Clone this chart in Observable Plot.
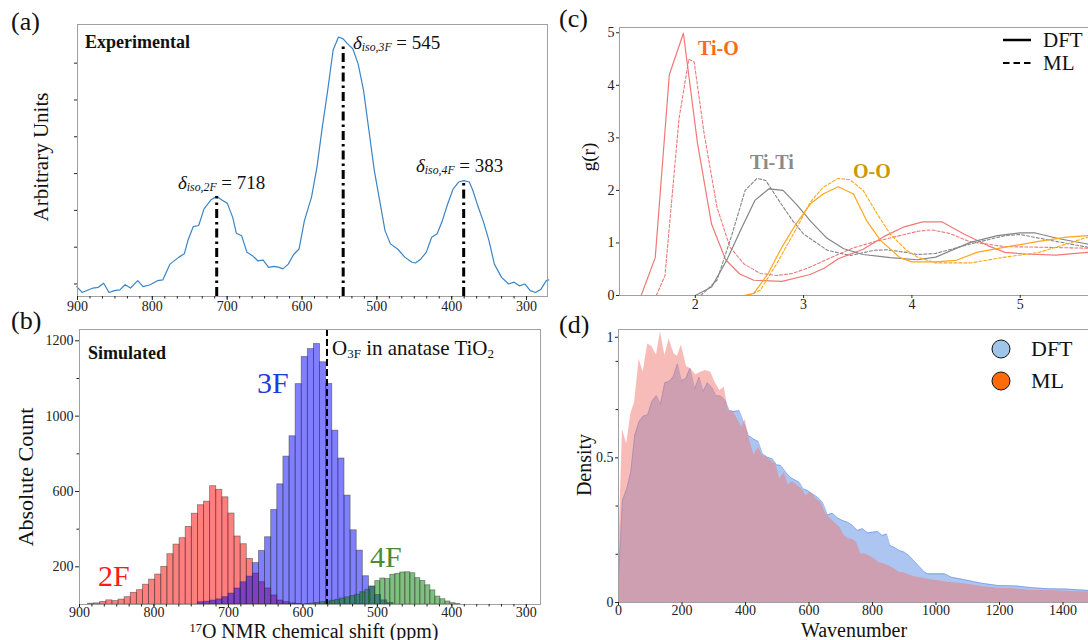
<!DOCTYPE html>
<html><head><meta charset="utf-8">
<script src="https://cdn.jsdelivr.net/npm/d3@7"></script>
<script src="https://cdn.jsdelivr.net/npm/@observablehq/plot@0.6"></script>
<style>
html,body{margin:0;padding:0;background:#fff;}
body{width:1088px;height:640px;overflow:hidden;position:relative;font-family:"Liberation Serif","Times New Roman",serif;color:#111;}
.panel{position:absolute;}
.panel svg{max-width:none !important;overflow:visible;}
.panel svg text{font-family:"Liberation Serif","Times New Roman",serif !important;font-size:14px;fill:#222;}
.lab{position:absolute;white-space:nowrap;line-height:1;}
.lab sub{font-size:0.62em;vertical-align:-0.25em;line-height:0;}
.lab sup{font-size:0.62em;vertical-align:0.45em;line-height:0;}
</style></head><body>
<script>
// ---------------- (a) experimental spectrum ----------------
const expShift = [901, 893.8, 879.4, 872.2, 865, 857.9, 850.7, 843.5, 836.3, 829.1, 819.5, 812.4, 802.8, 793.2, 786, 776.4, 764.5, 757.3, 752.5, 745.3, 738.1, 730.9, 721.4, 714.2, 707, 699.8, 692.6, 687.8, 680.7, 673.5, 666.3, 659.1, 651.9, 644.7, 637.5, 630.4, 625.6, 618.4, 611.2, 604, 596.8, 587.3, 580.1, 572.9, 565.7, 558.5, 551.3, 545.1, 539.4, 532.2, 525, 517.8, 510.6, 503.4, 496.3, 489.1, 481.9, 472.3, 462.7, 453.2, 448.4, 441.2, 434, 426.8, 419.6, 412.5, 405.3, 398.1, 390.9, 383.7, 376.5, 371.7, 364.6, 357.4, 350.2, 343, 333.4, 323.8, 316.7, 309.5, 302.3, 295.1, 287.9, 280.7, 273.6, 270.2];
const expIntensity = [-0.07, -0.23, -0.11, -0.09, 0.02, -0.23, -0.18, -0.16, -0.02, -0.11, 0.09, -0.07, -0.02, 0.09, 0.11, 0.54, 0.73, 0.82, 1.18, 1.56, 1.59, 2.04, 2.29, 2.38, 2.28, 2.19, 1.81, 1.38, 1.31, 0.86, 0.77, 0.63, 0.65, 0.45, 0.48, 0.45, 0.41, 0.54, 0.80, 0.95, 1.72, 2.36, 3.17, 4.26, 5.26, 6.35, 6.71, 6.66, 6.53, 6.39, 5.98, 5.26, 4.17, 3.08, 2.27, 1.45, 1.09, 0.95, 0.73, 0.59, 0.57, 0.68, 0.86, 1.27, 1.36, 1.72, 2.18, 2.58, 2.77, 2.81, 2.77, 2.54, 2.09, 1.68, 1.18, 0.54, 0.18, 0, 0.05, -0.05, 0, -0.18, -0.23, -0.14, 0.09, 0.11];
const markerShift = [714, 545, 384];
const markerTop = [2.38, 6.45, 2.78];
const markerLabel = ["2F", "3F", "4F"];
const markerValue = ["718", "545", "383"];
const aXTicks = [900, 800, 700, 600, 500, 400, 300];

// ---------------- (b) simulated histograms ----------------
const binWidth = 8.2;          // 2F and 3F bin width (ppm)
const redFirstEdge = 888.6;    // high-ppm edge of first 2F bin
const redCounts = [4, 6, 14, 22, 18, 26, 39, 62, 76, 105, 132, 159, 200, 267, 318, 352, 412, 482, 527, 546, 628, 609, 569, 483, 361, 320, 242, 164, 118, 85, 48, 21, 12, 6, 3];
const blueFirstEdge = 741.0;
const blueCounts = [12, 15, 21, 27, 39, 58, 85, 118, 148, 220, 284, 357, 502, 638, 785, 893, 1170, 1314, 1356, 1383, 1286, 1171, 923, 775, 578, 394, 286, 150, 95, 50, 22, 8];
const greenWidth = 6.72;
const greenFirstEdge = 596.9;
const greenCounts = [3, 5, 8, 12, 15, 20, 25, 32, 38, 45, 52, 65, 78, 95, 124, 138, 135, 158, 163, 170, 171, 166, 140, 125, 102, 75, 42, 28, 16, 7, 3];
const o3fShift = 567.7;
const bXTicks = [900, 800, 700, 600, 500, 400, 300];
const bYTicks = [200, 600, 1000, 1400];
const bYTickLabels = ["200", "600", "1000", "1200"];
const bYMinor = [400, 800, 1200];

// ---------------- (c) radial distribution functions ----------------
const tioDftR = [1.50, 1.63, 1.76, 1.89, 2.02, 2.15, 2.28, 2.41, 2.54, 2.80, 3.06, 3.19, 3.32, 3.55, 3.74, 3.92, 4.10, 4.28, 4.48, 4.70, 4.86, 5.05, 5.33, 5.62, 5.90];
const tioDftG = [0, 0.72, 4.20, 4.99, 2.90, 1.36, 0.68, 0.41, 0.29, 0.27, 0.40, 0.52, 0.70, 0.88, 1.12, 1.30, 1.40, 1.40, 1.17, 0.95, 0.82, 0.79, 0.77, 0.82, 0.88];
const tioMlR = [1.64, 1.72, 1.85, 1.94, 1.99, 2.08, 2.20, 2.32, 2.45, 2.60, 2.75, 2.90, 3.06, 3.25, 3.45, 3.65, 3.85, 4.05, 4.18, 4.35, 4.54, 4.86, 5.17, 5.62, 5.90];
const tioMlG = [0, 0.38, 3.37, 4.50, 4.44, 3.10, 1.68, 0.92, 0.60, 0.42, 0.38, 0.42, 0.54, 0.72, 0.90, 1.02, 1.12, 1.22, 1.25, 1.18, 1.02, 0.93, 0.92, 0.90, 0.90];
const titiDftR = [2.00, 2.15, 2.29, 2.42, 2.55, 2.68, 2.81, 2.94, 3.07, 3.21, 3.37, 3.55, 3.80, 4.05, 4.22, 4.54, 4.79, 5.00, 5.14, 5.36, 5.62, 5.90];
const titiDftG = [0, 0.16, 0.67, 1.25, 1.81, 2.03, 2.00, 1.72, 1.40, 1.10, 0.89, 0.78, 0.72, 0.68, 0.73, 1.01, 1.14, 1.19, 1.19, 1.08, 0.98, 0.92];
const titiMlR = [2.05, 2.20, 2.34, 2.46, 2.57, 2.65, 2.78, 2.90, 3.00, 3.22, 3.43, 3.65, 3.77, 3.95, 4.05, 4.22, 4.54, 4.86, 5.00, 5.33, 5.62, 5.90];
const titiMlG = [0, 0.29, 1.17, 2.00, 2.23, 2.19, 1.78, 1.42, 1.17, 0.86, 0.76, 0.86, 0.87, 0.82, 0.78, 0.80, 0.98, 1.14, 1.16, 1.03, 0.92, 0.88];
const ooDftR = [2.45, 2.54, 2.67, 2.80, 2.93, 3.06, 3.18, 3.32, 3.46, 3.58, 3.71, 3.89, 4.00, 4.22, 4.41, 4.60, 4.86, 5.17, 5.43, 5.62, 5.90];
const ooDftG = [0, 0.04, 0.41, 0.92, 1.36, 1.74, 1.93, 2.07, 1.93, 1.43, 1.05, 0.72, 0.64, 0.64, 0.67, 0.82, 0.92, 1.03, 1.11, 1.14, 1.14];
const ooMlR = [2.49, 2.60, 2.75, 2.94, 3.06, 3.18, 3.32, 3.43, 3.55, 3.68, 3.80, 3.95, 4.05, 4.22, 4.54, 4.86, 5.17, 5.43, 5.62, 5.90];
const ooMlG = [0, 0.10, 0.60, 1.30, 1.77, 2.06, 2.23, 2.20, 2.00, 1.55, 1.17, 0.86, 0.73, 0.62, 0.62, 0.73, 0.82, 0.98, 1.11, 1.18];
const cXTicks = [2, 3, 4, 5];
const cYTicks = [0, 1, 2, 3, 4, 5];

// ---------------- (d) vibrational density of states ----------------
const mlW = [0, 12.5, 26, 38.7, 51, 65, 77.6, 92, 105, 119.6, 132, 146, 159.5, 175, 185.7, 198, 214, 227.7, 243.4, 259, 275, 290.7, 304, 319, 333, 346, 361, 374.7, 388, 399, 411.5, 427, 440.8, 453, 469, 485, 495.4, 508, 521.7, 534, 548, 563.7, 577, 590, 605.7, 621.4, 637, 653, 669, 684.4, 697, 710.7, 723, 737, 749.5, 763, 779, 791.5, 805, 821, 836.6, 852.4, 868, 884, 900, 915.4, 936, 984, 1037, 1090, 1143, 1196, 1249, 1302, 1355, 1408, 1480, 1600];
const mlD = [0.16, 0.646, 0.592, 0.704, 0.748, 0.909, 0.859, 0.965, 0.956, 0.924, 1.011, 0.922, 0.984, 0.928, 0.919, 0.961, 0.882, 0.872, 0.85, 0.859, 0.866, 0.859, 0.822, 0.791, 0.803, 0.716, 0.713, 0.685, 0.654, 0.683, 0.611, 0.551, 0.58, 0.549, 0.539, 0.524, 0.517, 0.461, 0.486, 0.439, 0.451, 0.437, 0.424, 0.399, 0.412, 0.387, 0.374, 0.331, 0.312, 0.294, 0.281, 0.25, 0.238, 0.235, 0.225, 0.182, 0.18, 0.173, 0.163, 0.148, 0.144, 0.136, 0.126, 0.113, 0.111, 0.103, 0.095, 0.085, 0.076, 0.07, 0.06, 0.053, 0.051, 0.045, 0.045, 0.042, 0.039, 0.035];
const dftW = [0, 12.5, 26, 38.7, 51, 65, 77.6, 92, 105, 119.6, 132, 146, 159.5, 172, 185.7, 198, 212, 225, 240, 254, 266.6, 280, 296, 306.5, 322, 336, 348.5, 364, 380, 395.7, 409, 424, 440, 453, 469, 485, 497.5, 511, 527, 540, 553, 569, 581.5, 595, 611, 626.7, 642.4, 658, 674, 690, 705.4, 721, 737, 752.6, 768, 784, 800, 816, 831.4, 844, 854.5, 868, 884, 900, 915, 936, 964, 974, 1027, 1048, 1090, 1143, 1196, 1249, 1302, 1355, 1408, 1480, 1600];
const dftD = [0.088, 0.38, 0.424, 0.486, 0.623, 0.675, 0.695, 0.7, 0.75, 0.772, 0.739, 0.82, 0.825, 0.841, 0.89, 0.828, 0.835, 0.874, 0.797, 0.841, 0.787, 0.82, 0.8, 0.772, 0.77, 0.754, 0.716, 0.713, 0.716, 0.667, 0.623, 0.611, 0.601, 0.555, 0.542, 0.536, 0.514, 0.511, 0.486, 0.468, 0.459, 0.449, 0.424, 0.418, 0.405, 0.393, 0.374, 0.327, 0.333, 0.315, 0.306, 0.3, 0.287, 0.269, 0.275, 0.26, 0.262, 0.265, 0.25, 0.256, 0.213, 0.206, 0.194, 0.188, 0.175, 0.148, 0.113, 0.107, 0.107, 0.0945, 0.0846, 0.072, 0.063, 0.062, 0.055, 0.051, 0.05, 0.045, 0.04];
const dXTicks = [0, 200, 400, 600, 800, 1000, 1200, 1400];
const dYTicks = [0, 0.54, 0.99];
const dYTickLabels = ["0", "0.5", "1"];
const dYMinor = [0.18, 0.36, 0.72, 0.9];

// ---------------- helpers ----------------
const common = {background: "transparent", fontFamily: "'Liberation Serif','Times New Roman',serif", fontSize: "14px", color: "#222", overflow: "visible"};
const frameColor = "#a0a0a0";
function place(svg, left, top) {
  const div = document.createElement("div");
  div.className = "panel";
  div.style.left = left + "px"; div.style.top = top + "px";
  div.appendChild(svg);
  document.body.appendChild(div);
}
function label(html, x, y, css = {}, ax = 0, ay = 0.5, rot = 0) {
  const d = document.createElement("div");
  d.className = "lab";
  d.innerHTML = html;
  Object.assign(d.style, css);
  d.style.left = x + "px"; d.style.top = y + "px";
  d.style.transform = `translate(${-ax * 100}%, ${-ay * 100}%)` + (rot ? ` rotate(${rot}deg)` : "");
  document.body.appendChild(d);
}
const blank = () => "";
const fmtMap = (vals, labs) => { const m = new Map(vals.map((v, i) => [v, labs[i]])); return d => m.get(d); };
const zip2 = (a, b, ka, kb, extra = {}) => a.map((v, i) => ({[ka]: v, [kb]: b[i], ...extra}));
const bins = (counts, first, w) => counts.map((c, i) => ({x1: first - i * w, x2: first - (i + 1) * w, count: c}));

// ---------------- (a) ----------------
const expData = zip2(expShift, expIntensity, "shift", "intensity");
const markers = markerShift.map((s, i) => ({shift: s, top: markerTop[i]}));
const aYmin = -0.34;
place(Plot.plot({
  width: 560, height: 330, marginLeft: 77, marginRight: 13, marginTop: 24, marginBottom: 34,
  x: {domain: [900, 272]}, y: {domain: [aYmin, 7.05]},
  style: common,
  marks: [
    Plot.line(expData, {x: "shift", y: "intensity", stroke: "#3a85c6", strokeWidth: 1.2}),
    Plot.ruleX(markers, {x: "shift", y1: aYmin, y2: "top", stroke: "#000", strokeWidth: 3, strokeDasharray: "9,4,2.5,4"}),
    Plot.frame({stroke: frameColor}),
    Plot.axisX(aXTicks, {tickSize: 4, tickPadding: 1, tickFormat: d => String(d), label: null}),
    Plot.axisX(d3.range(300, 900, 100 / 6), {tickSize: 2.5, tickFormat: blank, label: null}),
    Plot.axisY(d3.range(0, 7, 1), {tickSize: 3, tickFormat: blank, label: null})
  ]
}), 0, 0);

// ---------------- (b) ----------------
place(Plot.plot({
  width: 560, height: 330, marginLeft: 79, marginRight: 20, marginTop: 19, marginBottom: 36,
  x: {domain: [900, 281]}, y: {domain: [0, 1460]},
  style: common,
  marks: [
    Plot.rectY(bins(redCounts, redFirstEdge, binWidth), {x1: "x1", x2: "x2", y1: 0, y2: "count", fill: "#ff0000", fillOpacity: 0.5, stroke: "#333", strokeOpacity: 0.55, strokeWidth: 0.8}),
    Plot.rectY(bins(blueCounts, blueFirstEdge, binWidth), {x1: "x1", x2: "x2", y1: 0, y2: "count", fill: "#0000ff", fillOpacity: 0.5, stroke: "#333", strokeOpacity: 0.55, strokeWidth: 0.8}),
    Plot.rectY(bins(greenCounts, greenFirstEdge, greenWidth), {x1: "x1", x2: "x2", y1: 0, y2: "count", fill: "#008000", fillOpacity: 0.5, stroke: "#333", strokeOpacity: 0.55, strokeWidth: 0.8}),
    Plot.ruleX([o3fShift], {stroke: "#000", strokeWidth: 2, strokeDasharray: "7,3"}),
    Plot.frame({stroke: frameColor}),
    Plot.axisX(bXTicks, {tickSize: 3, tickPadding: 0, tickFormat: d => String(d), label: null}),
    Plot.axisX(d3.range(300, 900, 100 / 6), {tickSize: 2.5, tickFormat: blank, label: null}),
    Plot.axisY(bYTicks, {tickSize: 4, tickPadding: 2, tickFormat: fmtMap(bYTicks, bYTickLabels), label: null}),
    Plot.axisY(bYMinor, {tickSize: 2.5, tickFormat: blank, label: null})
  ]
}), 0, 310);

// ---------------- (c) ----------------
const rdf = [
  ...zip2(tioDftR, tioDftG, "r", "g", {s: "TiO-DFT"}),
  ...zip2(tioMlR, tioMlG, "r", "g", {s: "TiO-ML"}),
  ...zip2(titiDftR, titiDftG, "r", "g", {s: "TiTi-DFT"}),
  ...zip2(titiMlR, titiMlG, "r", "g", {s: "TiTi-ML"}),
  ...zip2(ooDftR, ooDftG, "r", "g", {s: "OO-DFT"}),
  ...zip2(ooMlR, ooMlG, "r", "g", {s: "OO-ML"})
];
const pairColor = {TiO: "#f07878", TiTi: "#858585", OO: "#ffa51a"};
const rdfLines = Object.keys(pairColor).flatMap(p => [
  Plot.line(rdf.filter(d => d.s === p + "-DFT"), {x: "r", y: "g", stroke: pairColor[p], strokeWidth: 1.2}),
  Plot.line(rdf.filter(d => d.s === p + "-ML"), {x: "r", y: "g", stroke: pairColor[p], strokeWidth: 1.1, strokeDasharray: "3,2"})
]);
place(Plot.plot({
  width: 580, height: 310, marginLeft: 59, marginRight: 12, marginTop: 27, marginBottom: 15,
  x: {domain: [1.3, 6.0]}, y: {domain: [0, 5.1]},
  style: common,
  marks: [
    ...rdfLines,
    Plot.frame({stroke: frameColor}),
    Plot.axisX(cXTicks, {tickSize: 3, tickPadding: 1, tickFormat: d => String(d), label: null}),
    Plot.axisY(cYTicks, {tickSize: 3, tickPadding: 2, tickFormat: d => String(d), label: null})
  ]
}), 560, 0);

// ---------------- (d) ----------------
const dft = zip2(dftW, dftD, "w", "d");
const ml = zip2(mlW, mlD, "w", "d");
place(Plot.plot({
  width: 580, height: 330, marginLeft: 58, marginRight: 14, marginTop: 19, marginBottom: 38,
  x: {domain: [0, 1600]}, y: {domain: [0, 1.019]},
  style: common,
  marks: [
    Plot.areaY(dft, {x: "w", y1: 0, y2: "d", fill: "#5c8be4", fillOpacity: 0.5}),
    Plot.line(dft, {x: "w", y: "d", stroke: "#5c8be4", strokeOpacity: 0.7, strokeWidth: 0.8}),
    Plot.areaY(ml, {x: "w", y1: 0, y2: "d", fill: "#f07a72", fillOpacity: 0.5}),
    Plot.frame({stroke: frameColor}),
    Plot.axisX(dXTicks, {tickSize: 3, tickPadding: 0, tickFormat: d => String(d), label: null}),
    Plot.axisY(dYTicks, {tickSize: 3, tickPadding: 2, tickFormat: fmtMap(dYTicks, dYTickLabels), label: null}),
    Plot.axisY(dYMinor, {tickSize: 2.5, tickFormat: blank, label: null})
  ]
}), 560, 310);

// ---------------- text ----------------
const serif = {fontFamily: "'Liberation Serif','Times New Roman',serif"};
label("(a)", 11, 22, {...serif, fontSize: "26px"});
label("(b)", 11, 321, {...serif, fontSize: "26px"});
label("(c)", 559, 19, {...serif, fontSize: "26px"});
label("(d)", 559, 325, {...serif, fontSize: "26px"});

label("Experimental", 85, 42, {...serif, fontSize: "18px", fontWeight: "bold"});
const dPos = [[178, 182], [353, 42], [416, 165]];
markerLabel.forEach((m, i) => label(`<i>δ</i><sub><i>iso,${m}</i></sub> = ${markerValue[i]}`, dPos[i][0], dPos[i][1], {...serif, fontSize: "19px"}));
label("Arbitrary Units", 41, 157, {...serif, fontSize: "21px"}, 0.5, 0.5, -90);

label("Simulated", 88, 353, {...serif, fontSize: "18px", fontWeight: "bold"});
label("O<sub>3F</sub> in anatase TiO<sub>2</sub>", 332, 348, {...serif, fontSize: "21px"});
label("3F", 257, 383, {...serif, fontSize: "30px", color: "#1f3bd8"});
label("2F", 98, 576, {...serif, fontSize: "30px", color: "#ff1a1a"});
label("4F", 370, 557, {...serif, fontSize: "30px", color: "#4b8b35"});
label("Absolute Count", 26, 477, {...serif, fontSize: "22px"}, 0.5, 0.5, -90);
label("<sup>17</sup>O NMR chemical shift (ppm)", 314, 631, {...serif, fontSize: "20px", lineHeight: "0.85"}, 0.5, 0.5);

label("Ti-O", 698, 48, {...serif, fontSize: "20px", fontWeight: "bold", color: "#ff6a1a"});
label("Ti-Ti", 750, 162, {...serif, fontSize: "20px", fontWeight: "bold", color: "#8a8a8a"});
label("O-O", 853, 171, {...serif, fontSize: "20px", fontWeight: "bold", color: "#c99a06"});
label("g(r)", 588, 157, {...serif, fontSize: "19px"}, 0.5, 0.5, -90);
label('<svg width="30" height="30" style="display:block"><line x1="0" y1="6" x2="28" y2="6" stroke="#000" stroke-width="2.5"/><line x1="0" y1="29" x2="28" y2="29" stroke="#000" stroke-width="2.2" stroke-dasharray="6.5,4"/></svg>', 1003, 34, {}, 0, 0);
label("DFT", 1043, 40, {...serif, fontSize: "21px"});
label("ML", 1043, 63, {...serif, fontSize: "21px"});

label("Density", 584, 465, {...serif, fontSize: "20px"}, 0.5, 0.5, -90);
label("Wavenumber", 854, 629.5, {...serif, fontSize: "20px", lineHeight: "0.85"}, 0.5, 0.5);
label('<div style="width:17px;height:17px;border-radius:50%;background:#9fc5e8;border:1.8px solid #111"></div>', 1001, 349, {}, 0.5, 0.5);
label('<div style="width:17px;height:17px;border-radius:50%;background:#ff6a0a;border:1.8px solid #111"></div>', 1001, 381, {}, 0.5, 0.5);
label("DFT", 1031, 349, {...serif, fontSize: "22px"});
label("ML", 1031, 381, {...serif, fontSize: "22px"});
</script></body></html>
